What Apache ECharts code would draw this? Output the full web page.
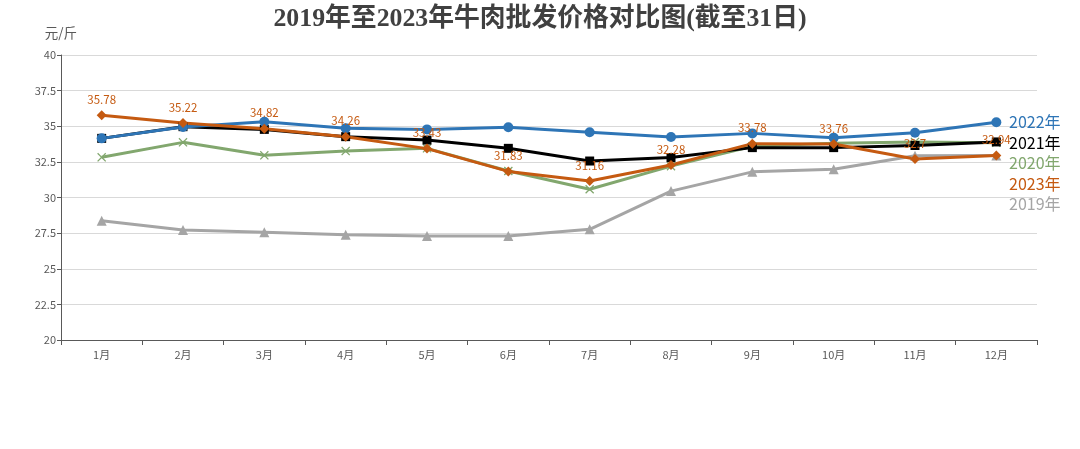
<!DOCTYPE html>
<html><head><meta charset="utf-8">
<script src="https://cdn.jsdelivr.net/npm/echarts@6/dist/echarts.min.js"></script>
<style>html,body{margin:0;padding:0;background:#fff}#c{width:1080px;height:449px}</style>
</head><body><div id="c"></div>
<script>
const months = ['1月','2月','3月','4月','5月','6月','7月','8月','9月','10月','11月','12月'];
const s2019 = [28.37, 27.72, 27.56, 27.39, 27.30, 27.30, 27.77, 30.45, 31.80, 31.98, 32.93, 32.95];
const s2020 = [32.82, 33.87, 32.96, 33.26, 33.45, 31.86, 30.58, 32.20, 33.60, 33.80, 33.90, 33.85];
const s2021 = [34.15, 34.97, 34.78, 34.27, 34.03, 33.45, 32.56, 32.80, 33.50, 33.50, 33.65, 33.90];
const s2022 = [34.15, 34.95, 35.32, 34.86, 34.78, 34.93, 34.58, 34.25, 34.50, 34.20, 34.55, 35.28];
const s2023 = [35.78, 35.22, 34.82, 34.26, 33.43, 31.83, 31.16, 32.28, 33.78, 33.76, 32.70, 32.94];
const yTicks = [20, 22.5, 25, 27.5, 30, 32.5, 35, 37.5, 40];

const C = {y2019:'#A5A5A5', y2020:'#82A76E', y2021:'#000000', y2022:'#2E75B6', y2023:'#C55A11'};
const xShape = 'path://M0,1L1,0L5,4L9,0L10,1L6,5L10,9L9,10L5,6L1,10L0,9L4,5Z';
const FF = 'Noto Sans CJK SC';

function mk(name, data, color, symbol, size, extra) {
  return Object.assign({
    name, type:'line', data, symbol, symbolSize:size,
    lineStyle:{color, width:3}, itemStyle:{color},
    emphasis:{disabled:true}, animation:false
  }, extra||{});
}
const chart = echarts.init(document.getElementById('c'));
chart.setOption({
  animation:false,
  title:{text:'2019年至2023年牛肉批发价格对比图(截至31日)', left:'center', top:1,
    textStyle:{fontFamily:'Liberation Serif, Noto Sans CJK SC', fontWeight:'bold', fontSize:25.8, color:'#404040'}},
  grid:{left:61, right:43, top:55, bottom:109},
  legend:{orient:'vertical', left:1004, top:112, padding:0, icon:'rect', itemWidth:0, itemHeight:20, itemGap:0.5,
    selectedMode:false,
    textStyle:{fontSize:16, fontFamily:FF},
    data:[
      {name:'2022年', textStyle:{color:C.y2022}},
      {name:'2021年', textStyle:{color:C.y2021}},
      {name:'2020年', textStyle:{color:C.y2020}},
      {name:'2023年', textStyle:{color:C.y2023}},
      {name:'2019年', textStyle:{color:C.y2019}}
    ]},
  xAxis:{type:'category', data:months, boundaryGap:true,
    axisLine:{lineStyle:{color:'#595959', width:1}},
    axisTick:{show:true, length:5, lineStyle:{color:'#595959'}},
    axisLabel:{color:'#595959', fontSize:11, margin:9, fontFamily:FF}},
  yAxis:{type:'value', min:yTicks[0], max:yTicks[yTicks.length-1], interval:2.5,
    name:'元/斤', nameLocation:'end', nameGap:15, nameTextStyle:{color:'#595959', fontSize:13.5, align:'right', padding:[0,-16,0,0], fontFamily:FF},
    axisLine:{show:true, lineStyle:{color:'#595959'}},
    axisTick:{show:true, length:4, lineStyle:{color:'#595959'}},
    axisLabel:{color:'#595959', fontSize:11, margin:5, fontFamily:FF},
    splitLine:{lineStyle:{color:'#D9D9D9'}}},
  series:[
    mk('2019年', s2019, C.y2019, 'triangle', 10),
    mk('2020年', s2020, C.y2020, xShape, 9),
    mk('2021年', s2021, C.y2021, 'rect', 9),
    mk('2022年', s2022, C.y2022, 'circle', 10),
    mk('2023年', s2023, C.y2023, 'diamond', 10, {
      label:{show:true, position:'top', distance:5, color:C.y2023, fontSize:11.5, fontFamily:FF}
    })
  ]
});
</script></body></html>
